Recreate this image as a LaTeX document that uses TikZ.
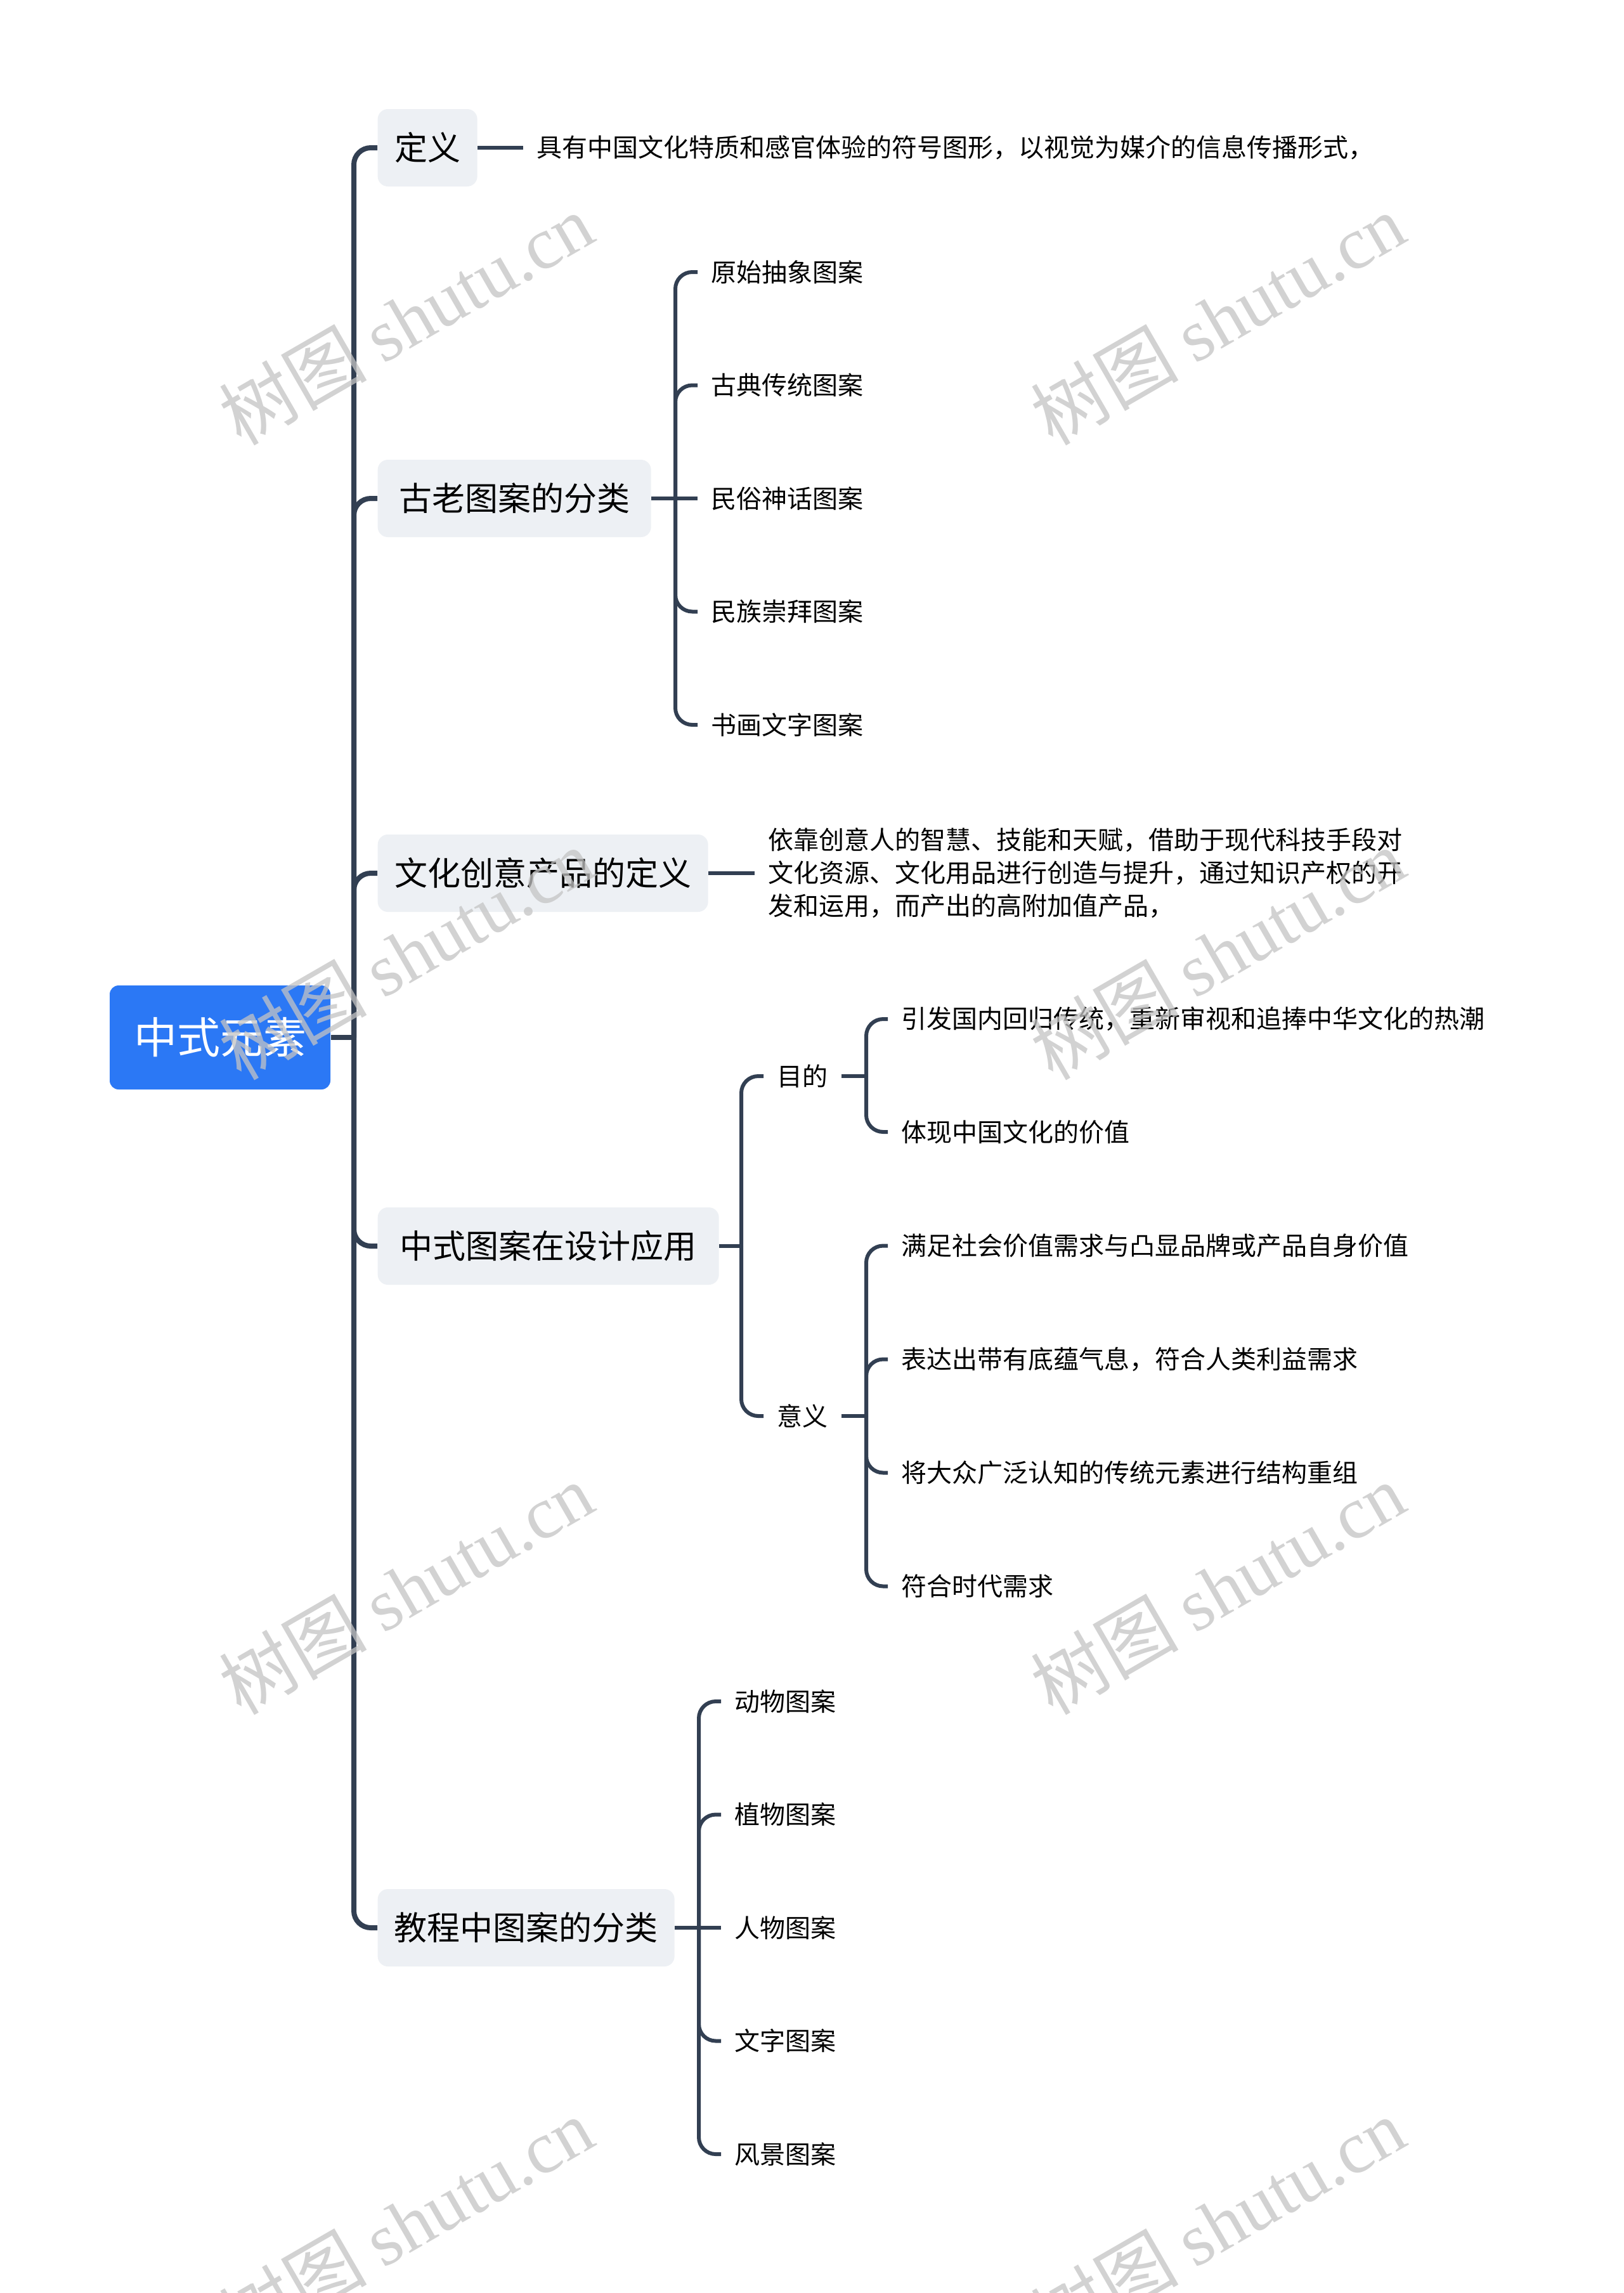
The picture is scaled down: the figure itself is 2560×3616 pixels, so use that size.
\documentclass[tikz,border=0pt]{standalone}
\usepackage{fontspec}
\setmainfont{Noto Sans CJK SC}
\newfontfamily\wmlatin{Liberation Serif}
\newfontfamily\wmcjk{Noto Sans CJK SC}
\definecolor{linec}{HTML}{323F52}
\definecolor{rootc}{HTML}{2B78F5}
\definecolor{boxc}{HTML}{EDF0F4}
\definecolor{wmc}{HTML}{C4C4C4}
\begin{document}
\begin{tikzpicture}[x=0.3pt,y=-0.3pt,
  rootbox/.style={fill=rootc, rounded corners=4.2pt, text=white,
    font=\fontsize{20.4pt}{24pt}\selectfont, minimum width=104.4pt,
    minimum height=49.2pt, inner sep=0pt},
  l1box/.style={fill=boxc, rounded corners=4.8pt, text=black,
    font=\fontsize{15.6pt}{18pt}\selectfont, minimum height=36.6pt,
    inner sep=0pt, anchor=west},
  leaf/.style={font=\fontsize{12pt}{15.6pt}\selectfont, text=black,
    inner xsep=6.3pt, inner ysep=2pt, anchor=west},
  trunkline/.style={draw=linec, line width=2.4pt},
  link/.style={draw=linec, line width=1.8pt},
  rcorner/.style={rounded corners=8pt},
  wm/.style={rotate=30, text=wmc, opacity=0.75, inner sep=0pt,
    font=\fontsize{35pt}{40pt}\selectfont}]

\useasboundingbox (0,0) rectangle (2560,3616);
\clip (0,0) rectangle (2560,3616);
\fill[white] (0,0) rectangle (2560,3616);

% root
\node[rootbox] (R) at (347,1636) {中式元素};
\coordinate (J0) at (558,1636);

% level 1
\node[l1box, minimum width=47.1pt]  (A) at (595,233)  {定义};
\node[l1box, minimum width=129.3pt] (B) at (595,786)  {古老图案的分类};
\node[l1box, minimum width=156.3pt] (C) at (595,1377) {文化创意产品的定义};
\node[l1box, minimum width=161.4pt] (D) at (595,1965) {中式图案在设计应用};
\node[l1box, minimum width=140.4pt] (E) at (595,3040) {教程中图案的分类};

\draw[trunkline] (R.east) -- (J0);
\foreach \n in {A,B,C,D,E}{
  \draw[trunkline, rcorner] (J0) |- (\n.west);
}

% 定义
\node[leaf] (A1) at (825,233) {具有中国文化特质和感官体验的符号图形，以视觉为媒介的信息传播形式，};
\draw[link] (A.east) -- (A1.west);

% 古老图案的分类
\coordinate (JB) at (1065,786);
\node[leaf] (B1) at (1100,429)    {原始抽象图案};
\node[leaf] (B2) at (1100,607.5)  {古典传统图案};
\node[leaf] (B3) at (1100,786)    {民俗神话图案};
\node[leaf] (B4) at (1100,964.5)  {民族崇拜图案};
\node[leaf] (B5) at (1100,1143)   {书画文字图案};
\draw[link] (B.east) -- (JB) -- (B3.west);
\foreach \n in {B1,B2,B4,B5}{
  \draw[link, rcorner] (JB) |- (\n.west);
}

% 文化创意产品的定义
\node[leaf, align=left] (C1) at (1190,1377) {依靠创意人的智慧、技能和天赋，借助于现代科技手段对\\文化资源、文化用品进行创造与提升，通过知识产权的开\\发和运用，而产出的高附加值产品，};
\draw[link] (C.east) -- (C1.west);

% 中式图案在设计应用
\coordinate (JD) at (1169,1965);
\node[leaf] (D1) at (1204,1697) {目的};
\node[leaf] (D2) at (1204,2233) {意义};
\draw[link] (D.east) -- (JD);
\draw[link, rcorner] (JD) |- (D1.west);
\draw[link, rcorner] (JD) |- (D2.west);

\coordinate (JD1) at (1366,1697);
\node[leaf] (D11) at (1400,1607) {引发国内回归传统，重新审视和追捧中华文化的热潮};
\node[leaf] (D12) at (1400,1785) {体现中国文化的价值};
\draw[link] (D1.east) -- (JD1);
\draw[link, rcorner] (JD1) |- (D11.west);
\draw[link, rcorner] (JD1) |- (D12.west);

\coordinate (JD2) at (1366,2233);
\node[leaf] (D21) at (1400,1964.5) {满足社会价值需求与凸显品牌或产品自身价值};
\node[leaf] (D22) at (1400,2143.5) {表达出带有底蕴气息，符合人类利益需求};
\node[leaf] (D23) at (1400,2322.5) {将大众广泛认知的传统元素进行结构重组};
\node[leaf] (D24) at (1400,2501.5) {符合时代需求};
\draw[link] (D2.east) -- (JD2);
\foreach \n in {D21,D22,D23,D24}{
  \draw[link, rcorner] (JD2) |- (\n.west);
}

% 教程中图案的分类
\coordinate (JE) at (1102,3040);
\node[leaf] (E1) at (1137,2683)   {动物图案};
\node[leaf] (E2) at (1137,2861.5) {植物图案};
\node[leaf] (E3) at (1137,3040)   {人物图案};
\node[leaf] (E4) at (1137,3218.5) {文字图案};
\node[leaf] (E5) at (1137,3397)   {风景图案};
\draw[link] (E.east) -- (JE) -- (E3.west);
\foreach \n in {E1,E2,E4,E5}{
  \draw[link, rcorner] (JE) |- (\n.west);
}

% watermarks
\foreach \wx in {640,1920}{
  \foreach \wy in {503,1504,2505,3506}{
    \node[wm] at (\wx,\wy) {{\wmcjk 树图} {\wmlatin shutu.cn}};
  }
}
\end{tikzpicture}
\end{document}
